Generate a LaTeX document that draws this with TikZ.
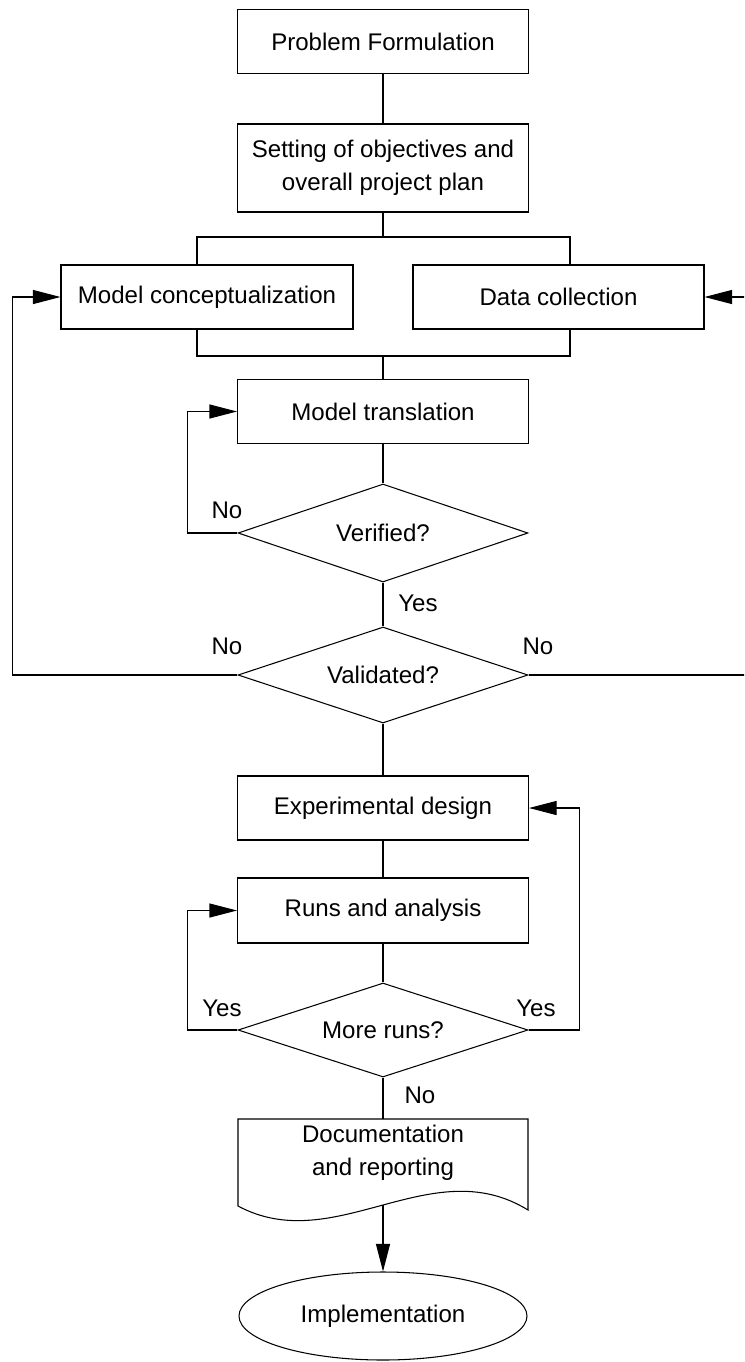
\documentclass[tikz,border=0pt]{standalone}
\usepackage{fontspec}
\setmainfont{Liberation Sans}
\usetikzlibrary{shapes.geometric,arrows.meta}

\begin{document}
\begin{tikzpicture}[line width=0.6pt,
    font=\fontsize{13.7pt}{18.8pt}\selectfont,
    procbox/.style={draw,rectangle,minimum width=5.82cm,minimum height=1.27cm,align=center,inner sep=2pt},
    decbox/.style={draw,diamond,aspect=3,inner sep=0pt,minimum width=5.8cm,minimum height=1.94cm},
    arr/.style={-{Triangle[length=0.55cm,width=0.28cm]}}]

    \useasboundingbox (0,0) rectangle (14.88,-27.24);
    \clip (0,0) rectangle (14.88,-27.24);

    \node[procbox] (prob) at (7.66,-0.83) {Problem Formulation};
    \node[procbox,minimum height=1.76cm] (plan) at (7.66,-3.36) {Setting of objectives and\\overall project plan};

    \node[procbox,minimum width=5.84cm,minimum height=1.28cm] (conc) at (4.14,-5.94) {Model conceptualization};
    \node[procbox,minimum height=1.28cm] (data) at (11.17,-5.94) {Data collection};

    \coordinate (brtl) at (3.94,-4.74);
    \coordinate (brtr) at (11.4,-4.74);
    \coordinate (brbl) at (3.94,-7.12);
    \coordinate (brbr) at (11.4,-7.12);

    \node[procbox] (trans) at (7.66,-8.23) {Model translation};
    \node[decbox,minimum height=1.96cm] (ver) at (7.66,-10.66) {Verified?};
    \node[decbox,minimum height=1.92cm] (val) at (7.66,-13.5) {Validated?};

    %%%%%%%%%%EXPERIMENTS%%%%%%%%%%%%%%%%

    \node[procbox,minimum height=1.28cm] (exp) at (7.66,-16.16) {Experimental design};
    \node[procbox,minimum height=1.3cm] (runs) at (7.66,-18.21) {Runs and analysis};
    \node[decbox,minimum height=1.88cm] (more) at (7.66,-20.6) {More runs?};

    \node[align=center] (doc) at (7.66,-23.06) {Documentation\\and reporting};
    \coordinate (doctop) at (7.66,-22.38);
    \coordinate (docb) at (7.66,-24.1);
    \draw (4.76,-24.12) |- (10.56,-22.38) -- (10.56,-24.2)
        .. controls (8.62,-23.0) and (6.70,-25.16) .. cycle;

    \node[draw,ellipse,minimum width=5.76cm,minimum height=1.76cm] (impl) at (7.66,-26.32) {Implementation};

    % labels
    \node (lno1) at (4.54,-10.2) {No};
    \node (lyes1) at (8.36,-12.06) {Yes};
    \node (lno2) at (4.54,-12.92) {No};
    \node (lno3) at (10.76,-12.92) {No};
    \node (lyes2) at (4.44,-20.16) {Yes};
    \node (lyes3) at (10.72,-20.16) {Yes};
    \node (lno4) at (8.4,-21.9) {No};

    % straight links
    \draw (prob) -- (plan);
    \draw (plan) -- (plan |- brtl);
    \draw (brtl |- conc.north) -- (brtl) -- (brtr) -- (brtr |- data.north);
    \draw (brbl |- conc.south) -- (brbl) -- (brbr) -- (brbr |- data.south);
    \draw (trans |- brbl) -- (trans);
    \draw (trans) -- (ver);
    \draw (ver) -- (val);
    \draw (val) -- (exp);
    \draw (exp) -- (runs);
    \draw (runs) -- (more);
    \draw (more) -- (doctop);
    \draw[arr] (docb) -- (impl);

    % loops back
    \draw[arr] (ver.west) -- ++(-1.0,0) |- (trans.west);
    \draw[arr] (val.west) -- ++(-4.5,0) |- (conc.west);
    \draw[arr] (val.east) -- ++(4.44,0) |- (data.east);
    \draw[arr] (more.west) -- ++(-1.0,0) |- (runs.west);
    \draw[arr] (more.east) -- ++(1.02,0) |- (exp.east);

\end{tikzpicture}
\end{document}
